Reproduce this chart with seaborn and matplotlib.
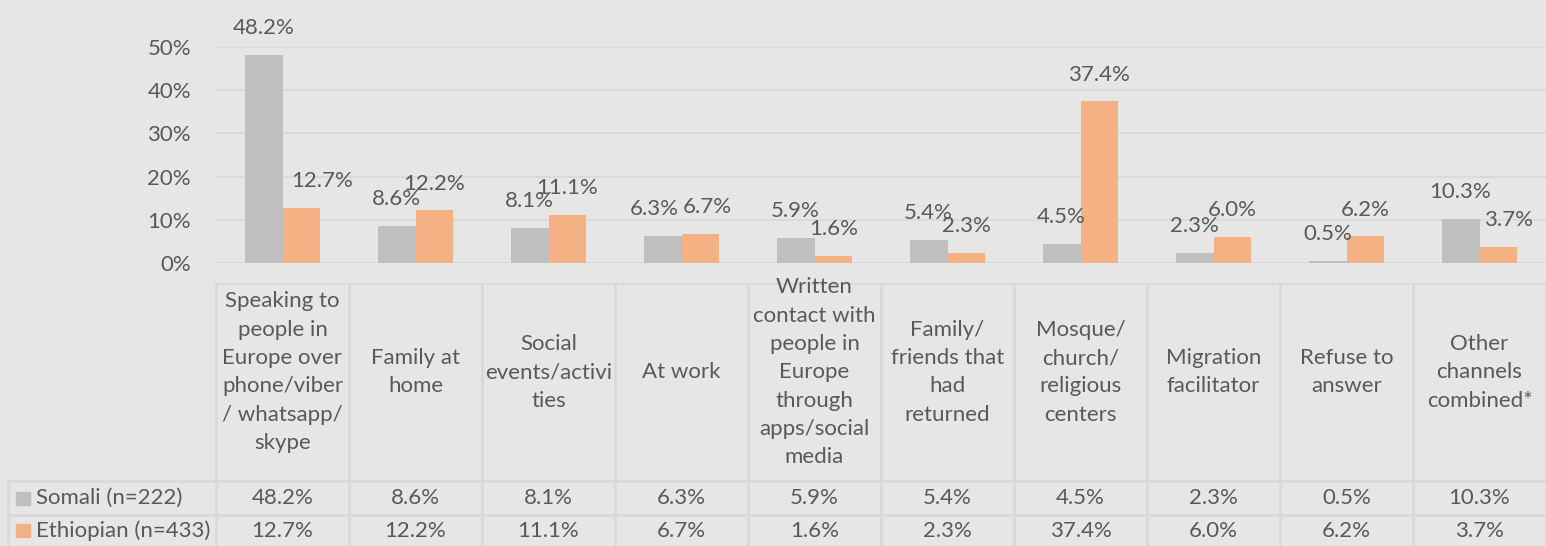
import seaborn as sns
import matplotlib.pyplot as plt
import matplotlib.ticker as mtick
from matplotlib.patches import Rectangle
import pandas as pd

channels = ['Speaking to\npeople in\nEurope over\nphone/viber\n/ whatsapp/\nskype',
            'Family at\nhome',
            'Social\nevents/activi\nties',
            'At work',
            'Written\ncontact with\npeople in\nEurope\nthrough\napps/social\nmedia',
            'Family/\nfriends that\nhad\nreturned',
            'Mosque/\nchurch/\nreligious\ncenters',
            'Migration\nfacilitator',
            'Refuse to\nanswer',
            'Other\nchannels\ncombined*']
somali = [48.2, 8.6, 8.1, 6.3, 5.9, 5.4, 4.5, 2.3, 0.5, 10.3]
ethiopian = [12.7, 12.2, 11.1, 6.7, 1.6, 2.3, 37.4, 6.0, 6.2, 3.7]
groups = ['Somali (n=222)', 'Ethiopian (n=433)']

bg = '#E7E6E6'
txt = '#595959'
grid = '#D9D9D9'
colors = ['#BFBFBF', '#F4B183']
fs = 16

sns.set_style('white')
plt.rcParams['font.family'] = ['Lato', 'DejaVu Sans']

df = pd.DataFrame({
    'channel': channels * 2,
    'group': [groups[0]] * 10 + [groups[1]] * 10,
    'value': [v / 100 for v in somali + ethiopian],
})

W, H = 1546, 546
fig = plt.figure(figsize=(W / 100, H / 100), dpi=100, facecolor=bg)

# chart area
ax = fig.add_axes([216 / W, 1 - 263 / H, (W - 216) / W, (263 - 47) / H], facecolor=bg)
sns.barplot(data=df, x='channel', y='value', hue='group', palette=colors,
            width=0.57, linewidth=0, saturation=1, legend=False, ax=ax)
ax.set_xlim(-0.5, 9.5)
ax.set_ylim(0, 0.5)
ax.set_yticks([0, 0.1, 0.2, 0.3, 0.4, 0.5])
ax.yaxis.set_major_formatter(mtick.PercentFormatter(1.0, decimals=0))
ax.yaxis.grid(True, color=grid, lw=1.3)
ax.set_axisbelow(True)
ax.tick_params(axis='x', bottom=False, labelbottom=False)
ax.tick_params(axis='y', length=0, pad=18, labelsize=fs, labelcolor=txt)
ax.set_xlabel('')
ax.set_ylabel('')
for s in ax.spines.values():
    s.set_visible(False)

# horizontal nudges (points) for a few labels, as in the original
pad = 12
nudge = {(0, 1): 15, (3, 0): -6, (3, 1): 5, (9, 1): 7}
for j, (cont, vals) in enumerate(zip(ax.containers, [somali, ethiopian])):
    anns = ax.bar_label(cont, labels=[f'{v:.1f}%' for v in vals], padding=pad,
                        fontsize=fs, color=txt)
    for i, a in enumerate(anns):
        if (i, j) in nudge:
            a.xyann = (nudge[(i, j)], pad)

# data table underneath
tab = fig.add_axes([0, 0, 1, 263 / H], facecolor=bg)
tab.set_xlim(0, W)
tab.set_ylim(283, 0)
tab.axis('off')
cw = (W - 216) / 10
edges = [216 + i * cw for i in range(11)]
tab.plot([216, W], [0, 0], color=grid, lw=2)
for y in [213, 250]:
    tab.plot([8, W], [y, y], color=grid, lw=2)
for x in edges:
    tab.plot([x, x], [0, 283], color=grid, lw=2)
tab.plot([8, 8], [213, 283], color=grid, lw=2)

for i, name in enumerate(channels):
    xc = edges[i] + cw / 2
    tab.text(xc, 96, name, ha='center', va='center', fontsize=fs, color=txt,
             linespacing=1.52)
    tab.text(xc, 231.5, f'{somali[i]:.1f}%', ha='center', va='center', fontsize=fs, color=txt)
    tab.text(xc, 266.5, f'{ethiopian[i]:.1f}%', ha='center', va='center', fontsize=fs, color=txt)

for yc, g, c in zip([231.5, 266.5], groups, colors):
    tab.add_patch(Rectangle((16, yc - 7), 14, 14, color=c))
    tab.text(36, yc, g, ha='left', va='center', fontsize=fs, color=txt)

fig.savefig('out.png', dpi=100, facecolor=bg)
